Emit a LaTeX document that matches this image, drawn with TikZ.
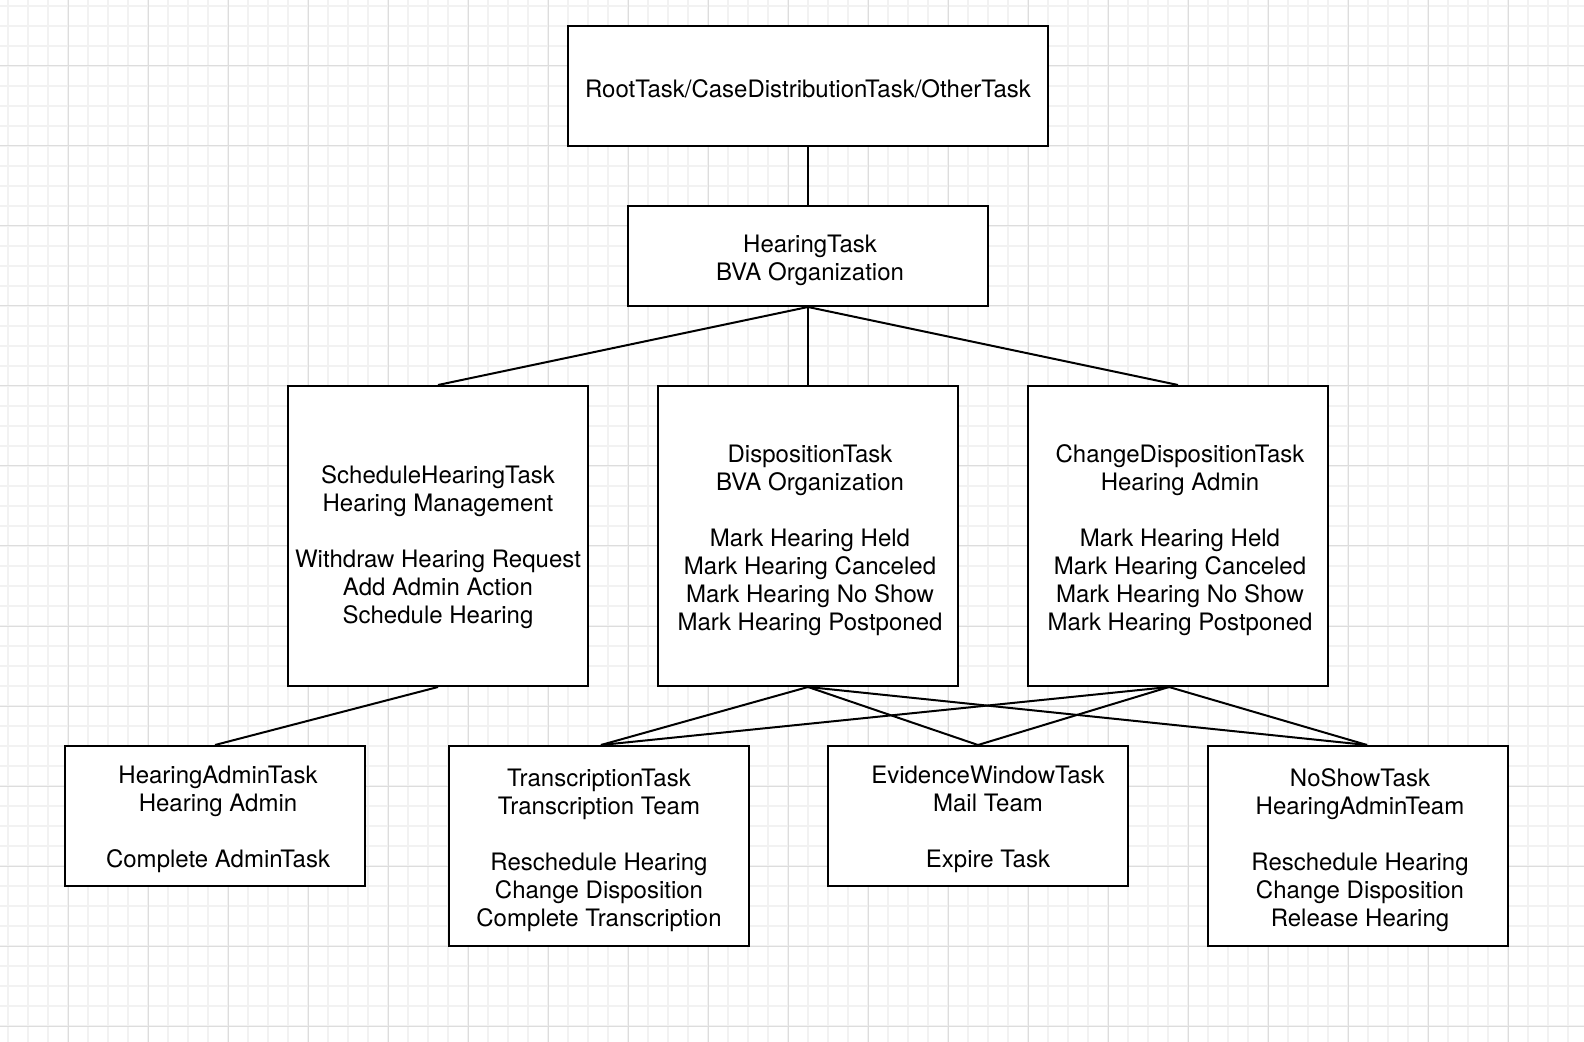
\documentclass[tikz,border=0pt]{standalone}
\usepackage{fontspec}
\setmainfont{TeX Gyre Heros}
\definecolor{gridminor}{HTML}{F2F2F2}
\definecolor{gridmajor}{HTML}{DDDDDD}
\begin{document}
\begin{tikzpicture}[x=0.5pt,y=-0.5pt,
  box/.style={draw=black, line width=1pt, fill=white, inner sep=0pt,
    minimum width=150pt},
  txt/.style={align=center, inner sep=0pt, font=\fontsize{12}{14}\selectfont},
  tx/.style={label={[txt, yshift=-2pt, xshift=1pt]center:{#1}}},
  link/.style={line width=1pt, draw=black}]
\useasboundingbox (0,0) rectangle (1584,1042);
\fill[white] (0,0) rectangle (1584,1042);
\foreach \x in {8,28,...,1584} \draw[gridminor, line width=0.75pt] (\x,0) -- (\x,1042);
\foreach \y in {6,26,...,1042} \draw[gridminor, line width=0.75pt] (0,\y) -- (1584,\y);
\foreach \x in {68,148,...,1584} \draw[gridmajor, line width=0.5pt] (\x,0) -- (\x,1042);
\foreach \y in {66,146,...,1042} \draw[gridmajor, line width=0.5pt] (0,\y) -- (1584,\y);

\node[box, minimum width=240pt, minimum height=60pt,
  label={[txt, yshift=-1.5pt]center:{RootTask/CaseDistributionTask/OtherTask}}] (root) at (808,86) {};
\node[box, minimum width=180pt, minimum height=50pt,
  tx={HearingTask\\BVA Organization}] (ht) at (808,256) {};

\node[box, minimum height=150pt,
  label={[txt, yshift=-5.5pt]center:{ScheduleHearingTask\\Hearing Management\\[14pt]Withdraw Hearing Request\\Add Admin Action\\Schedule Hearing}}] (sched) at (438,536) {};
\node[box, minimum height=150pt,
  tx={DispositionTask\\BVA Organization\\[14pt]Mark Hearing Held\\Mark Hearing Canceled\\Mark Hearing No Show\\Mark Hearing Postponed}] (disp) at (808,536) {};
\node[box, minimum height=150pt,
  tx={ChangeDispositionTask\\Hearing Admin\\[14pt]Mark Hearing Held\\Mark Hearing Canceled\\Mark Hearing No Show\\Mark Hearing Postponed}] (cdisp) at (1178,536) {};

\node[box, minimum height=70pt,
  label={[txt, yshift=-1.5pt, xshift=1.5pt]center:{HearingAdminTask\\Hearing Admin\\[14pt]Complete AdminTask}}] (hadmin) at (215,816) {};
\node[box, minimum height=100pt,
  label={[txt, yshift=-2pt]center:{TranscriptionTask\\Transcription Team\\[14pt]Reschedule Hearing\\Change Disposition\\Complete Transcription}}] (trans) at (599,846) {};
\node[box, minimum height=70pt,
  label={[txt, yshift=-1.5pt, xshift=5pt]center:{EvidenceWindowTask\\Mail Team\\[14pt]Expire Task}}] (evid) at (978,816) {};
\node[box, minimum height=100pt,
  tx={NoShowTask\\HearingAdminTeam\\[14pt]Reschedule Hearing\\Change Disposition\\Release Hearing}] (noshow) at (1358,846) {};

\coordinate (cdout) at ([xshift=-4.5pt]cdisp.south);
\coordinate (trin) at ([xshift=1pt]trans.north);
\coordinate (nsin) at ([xshift=4.5pt]noshow.north);

\draw[link] (root.south) -- (ht.north);
\draw[link] (ht.south) -- (sched.north);
\draw[link] (ht.south) -- (disp.north);
\draw[link] (ht.south) -- (cdisp.north);
\draw[link] (sched.south) -- (hadmin.north);
\draw[link] (disp.south) -- (trin);
\draw[link] (disp.south) -- (evid.north);
\draw[link] (disp.south) -- (nsin);
\draw[link] (cdout) -- (trin);
\draw[link] (cdout) -- (evid.north);
\draw[link] (cdout) -- (nsin);
\end{tikzpicture}
\end{document}
